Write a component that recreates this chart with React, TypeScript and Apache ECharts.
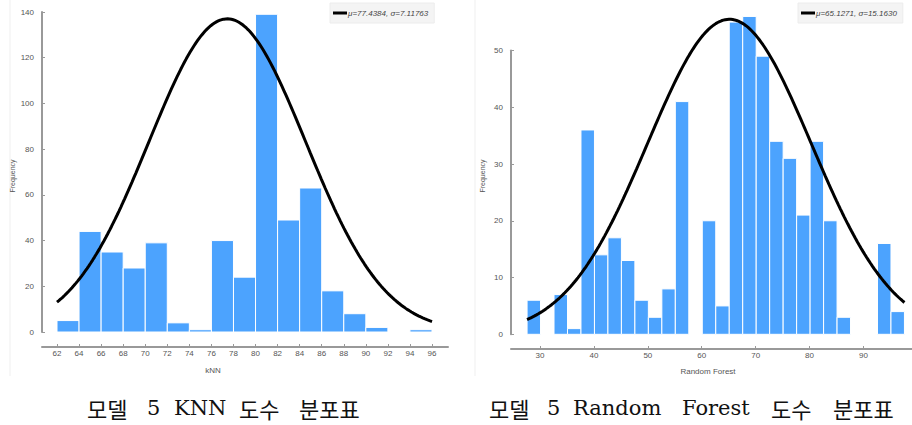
import React, { useEffect, useRef } from "react";
import * as echarts from "echarts";

// ---- KNN histogram ----
const KNN_BIN_EDGES = [62, 64, 66, 68, 70, 72, 74, 76, 78, 80, 82, 84, 86, 88, 90, 92, 94, 96];
const KNN_COUNTS = [5, 44, 35, 28, 39, 4, 1, 40, 24, 139, 49, 63, 18, 8, 2, 0, 1];
const KNN_TICKS = [62, 64, 66, 68, 70, 72, 74, 76, 78, 80, 82, 84, 86, 88, 90, 92, 94, 96];
const KNN_Y_TICKS = [0, 20, 40, 60, 80, 100, 120, 140];
const KNN_MU = 77.4384;
const KNN_SIGMA = 7.11763;
const KNN_PEAK = 137;
const KNN_LEGEND = "μ=77.4384, σ=7.11763";

// ---- Random Forest histogram ----
const RF_BIN_EDGES = [
  27.6, 30.1, 32.6, 35.1, 37.6, 40.1, 42.6, 45.1, 47.6, 50.1, 52.6, 55.1, 57.6, 60.1, 62.6,
  65.1, 67.6, 70.1, 72.6, 75.1, 77.6, 80.1, 82.6, 85.1, 87.6, 90.1, 92.6, 95.1, 97.6,
];
const RF_COUNTS = [6, 0, 7, 1, 36, 14, 17, 13, 6, 3, 8, 41, 0, 20, 5, 55, 56, 49, 34, 31, 21, 34, 20, 3, 0, 0, 16, 4];
const RF_TICKS = [30, 40, 50, 60, 70, 80, 90];
const RF_MU = 65.1271;
const RF_SIGMA = 15.163;
const RF_PEAK = 55.5;
const RF_LEGEND = "μ=65.1271, σ=15.1630";

// captions split into words (Korean / Latin) so each can use its own font
const CAPTION_LEFT_WORDS = ["모델", "5", "KNN", "도수", "분포표"];
const CAPTION_RIGHT_WORDS = ["모델", "5", "Random", "Forest", "도수", "분포표"];
const CAPTION_LEFT_X = [87, 147, 174, 239, 299];
const CAPTION_RIGHT_X = [489, 547, 573, 682, 771, 833];
const X_NAME_LEFT = "kNN";
const X_NAME_RIGHT = "Random Forest";
const Y_NAME = "Frequency";

const BAR_COLOR = "#4ca3fe";
const AXIS_COLOR = "#999999";
const LABEL_COLOR = "#555";
const FONT = '"Liberation Sans", Arial, sans-serif';

function binsToData(edges: number[], counts: number[]) {
  return counts.map((c, i) => [edges[i], edges[i + 1], c]);
}

function normalCurve(mu: number, sigma: number, peak: number, from: number, to: number) {
  const pts: number[][] = [];
  const n = 200;
  for (let i = 0; i <= n; i++) {
    const x = from + ((to - from) * i) / n;
    const z = (x - mu) / sigma;
    pts.push([x, peak * Math.exp(-0.5 * z * z)]);
  }
  return pts;
}

const renderBar = (params: any, api: any) => {
  const x0 = api.value(0);
  const x1 = api.value(1);
  const y = api.value(2);
  if (!y) return null;
  const p0 = api.coord([x0, 0]);
  const p1 = api.coord([x1, y]);
  return {
    type: "rect",
    shape: { x: p0[0], y: p1[1], width: p1[0] - p0[0], height: p0[1] - p1[1] },
    style: { fill: BAR_COLOR, stroke: "#ffffff", lineWidth: 1 },
  };
};

function xAxisCfg(gridIndex: number, min: number, max: number, ticks: number[], offset: number) {
  return {
    type: "value",
    gridIndex,
    min,
    max,
    offset,
    splitLine: { show: false },
    axisLine: { show: true, onZero: false, lineStyle: { color: AXIS_COLOR, width: 2 } },
    axisTick: { show: true, inside: true, length: 3, customValues: ticks, lineStyle: { color: AXIS_COLOR } },
    axisLabel: { customValues: ticks, color: LABEL_COLOR, fontSize: 8, fontFamily: FONT, margin: 2 },
  };
}

function yAxisCfg(gridIndex: number, max: number, interval: number) {
  return {
    type: "value",
    gridIndex,
    min: 0,
    max,
    interval,
    position: "left",
    splitLine: { show: false },
    axisLine: { show: true, onZero: false, lineStyle: { color: AXIS_COLOR, width: 2 } },
    axisTick: { show: true, inside: true, length: 3, lineStyle: { color: AXIS_COLOR } },
    axisLabel: { color: LABEL_COLOR, fontSize: 8, fontFamily: FONT, margin: 8 },
  };
}

function legendCfg(name: string, left: number) {
  return {
    data: [name],
    left,
    top: 3,
    orient: "horizontal",
    backgroundColor: "#f4f4f4",
    borderColor: "#ececec",
    borderWidth: 1,
    padding: [6, 6, 6, 3],
    icon: "rect",
    itemWidth: 14,
    itemHeight: 3,
    itemGap: 4,
    textStyle: { fontSize: 8, color: "#444", fontFamily: FONT, fontStyle: "italic", padding: [0, 0, 0, -4] },
  };
}

function captionWords(words: string[], xs: number[]) {
  return words.map((w, i) => {
    const latin = /^[A-Za-z0-9]+$/.test(w);
    return {
      type: "text",
      x: xs[i],
      y: latin ? 408 : 408,
      style: {
        text: w,
        fontSize: latin ? 21 : 22,
        fill: "#111",
        fontFamily: latin ? '"DejaVu Serif", serif' : '"Noto Sans CJK KR", sans-serif',
        align: "left",
        verticalAlign: "middle",
      },
    };
  });
}

export default function App() {
  const ref = useRef<HTMLDivElement>(null);
  useEffect(() => {
    if (!ref.current) return;
    const chart = echarts.init(ref.current, undefined, { renderer: "svg" });
    const option: any = {
      animation: false,
      backgroundColor: "#ffffff",
      grid: [
        { left: 42, top: 12, width: 406, height: 320 },
        { left: 511, top: 50.5, width: 401, height: 283.8 },
      ],
      legend: [legendCfg(KNN_LEGEND, 330), legendCfg(RF_LEGEND, 798)],
      xAxis: [
        xAxisCfg(0, 60.64, 97.45, KNN_TICKS, 15),
        xAxisCfg(1, 24.62, 99.0, RF_TICKS, 14.7),
      ],
      yAxis: [yAxisCfg(0, KNN_Y_TICKS[KNN_Y_TICKS.length - 1], 20), yAxisCfg(1, 50, 10)],
      series: [
        {
          type: "custom",
          name: "KNN bins",
          xAxisIndex: 0,
          yAxisIndex: 0,
          renderItem: renderBar,
          encode: { x: [0, 1], y: 2 },
          data: binsToData(KNN_BIN_EDGES, KNN_COUNTS),
          clip: false,
          silent: true,
        },
        {
          type: "line",
          name: KNN_LEGEND,
          xAxisIndex: 0,
          yAxisIndex: 0,
          showSymbol: false,
          clip: false,
          lineStyle: { color: "#000", width: 3 },
          itemStyle: { color: "#000" },
          data: normalCurve(KNN_MU, KNN_SIGMA, KNN_PEAK, KNN_BIN_EDGES[0], KNN_BIN_EDGES[KNN_BIN_EDGES.length - 1]),
          z: 5,
        },
        {
          type: "custom",
          name: "RF bins",
          xAxisIndex: 1,
          yAxisIndex: 1,
          renderItem: renderBar,
          encode: { x: [0, 1], y: 2 },
          data: binsToData(RF_BIN_EDGES, RF_COUNTS),
          clip: false,
          silent: true,
        },
        {
          type: "line",
          name: RF_LEGEND,
          xAxisIndex: 1,
          yAxisIndex: 1,
          showSymbol: false,
          clip: false,
          lineStyle: { color: "#000", width: 3 },
          itemStyle: { color: "#000" },
          data: normalCurve(RF_MU, RF_SIGMA, RF_PEAK, RF_BIN_EDGES[0], RF_BIN_EDGES[RF_BIN_EDGES.length - 1]),
          z: 5,
        },
      ],
      graphic: [
        { type: "line", shape: { x1: 10, y1: 0, x2: 10, y2: 376 }, style: { stroke: "#efefef", lineWidth: 1 } },
        { type: "line", shape: { x1: 475, y1: 0, x2: 475, y2: 376 }, style: { stroke: "#efefef", lineWidth: 1 } },
        {
          type: "text",
          x: 12,
          y: 176,
          rotation: Math.PI / 2,
          style: { text: Y_NAME, fontSize: 7, fill: LABEL_COLOR, fontFamily: FONT, align: "center", verticalAlign: "middle" },
        },
        {
          type: "text",
          x: 482,
          y: 176,
          rotation: Math.PI / 2,
          style: { text: Y_NAME, fontSize: 7, fill: LABEL_COLOR, fontFamily: FONT, align: "center", verticalAlign: "middle" },
        },
        {
          type: "text",
          x: 213,
          y: 370,
          style: { text: X_NAME_LEFT, fontSize: 8, fill: LABEL_COLOR, fontFamily: FONT, align: "center", verticalAlign: "middle" },
        },
        {
          type: "text",
          x: 708,
          y: 371,
          style: { text: X_NAME_RIGHT, fontSize: 8, fill: LABEL_COLOR, fontFamily: FONT, align: "center", verticalAlign: "middle" },
        },
        ...captionWords(CAPTION_LEFT_WORDS, CAPTION_LEFT_X),
        ...captionWords(CAPTION_RIGHT_WORDS, CAPTION_RIGHT_X),
      ],
    };
    chart.setOption(option);
    return () => chart.dispose();
  }, []);
  return (
    <div
      ref={ref}
      style={{ position: "fixed", left: 0, top: 0, width: 912, height: 425 }}
    />
  );
}
